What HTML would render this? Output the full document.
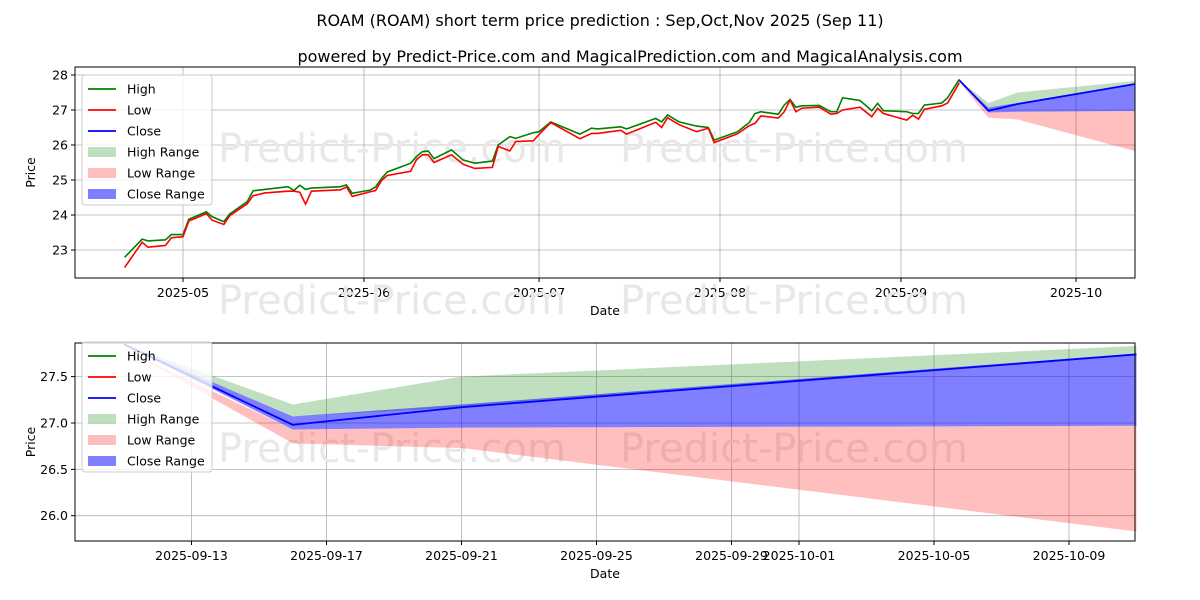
<!DOCTYPE html>
<html><head><meta charset="utf-8">
<style>
body{margin:0;background:#fff;}
svg{display:block;font-family:"DejaVu Sans","Liberation Sans",sans-serif;}
</style></head>
<body>
<svg id="chart" width="1200" height="600" viewBox="0 0 1200 600" xmlns="http://www.w3.org/2000/svg">
<rect width="1200" height="600" fill="#fff"/>
<text x="600" y="26" text-anchor="middle" font-size="16">ROAM (ROAM) short term price prediction : Sep,Oct,Nov 2025 (Sep 11)</text>
<text x="630" y="62" text-anchor="middle" font-size="16">powered by Predict-Price.com and MagicalPrediction.com and MagicalAnalysis.com</text>
<g id="top"></g>
<g id="bottom"></g>
</svg>
<script>
// historical data: days since 2025-05-01
const histDays = [-10,-7,-6,-3,-2,0,1,4,5,7,8,11,12,14,18,19,20,21,22,27,28,29,32,33,34,35,39,40,41,42,43,46,48,50,53,54,56,57,60,61,63,68,70,71,75,76,81,82,83,85,88,90,91,95,97,98,99,102,103,104,105,106,109,111,112,113,116,118,119,120,124,125,126,127,130,131,133];
const histHigh = [22.79,23.31,23.26,23.29,23.44,23.44,23.88,24.09,23.95,23.81,24.03,24.38,24.69,24.73,24.81,24.70,24.85,24.73,24.77,24.81,24.86,24.62,24.71,24.80,25.04,25.23,25.48,25.67,25.81,25.83,25.61,25.86,25.57,25.48,25.54,26.00,26.24,26.19,26.35,26.38,26.66,26.31,26.48,26.46,26.52,26.46,26.76,26.66,26.86,26.66,26.54,26.50,26.14,26.38,26.64,26.90,26.95,26.88,27.14,27.30,27.08,27.12,27.13,26.95,26.95,27.35,27.27,26.98,27.19,26.98,26.95,26.90,26.90,27.14,27.20,27.35,27.88];
const histLow = [22.50,23.22,23.08,23.13,23.35,23.38,23.83,24.04,23.85,23.73,23.98,24.32,24.55,24.63,24.68,24.68,24.65,24.31,24.68,24.72,24.80,24.53,24.66,24.70,24.98,25.13,25.25,25.58,25.72,25.72,25.50,25.72,25.45,25.33,25.36,25.96,25.83,26.10,26.12,26.30,26.64,26.18,26.33,26.33,26.42,26.31,26.65,26.50,26.78,26.58,26.38,26.48,26.07,26.32,26.55,26.62,26.83,26.77,26.95,27.28,26.95,27.05,27.08,26.88,26.90,27.00,27.08,26.81,27.05,26.90,26.71,26.85,26.74,27.02,27.12,27.20,27.78];
// prediction: days since 2025-09-11
const predDays = [0,5,10,30];
const predClose = [27.85,26.98,27.17,27.74];
const highRangeTop = [27.85,27.20,27.50,27.83];
const highRangeBottom = [27.85,27.07,27.17,27.74];
const closeRangeTop = [27.85,27.07,27.20,27.75];
const closeRangeBottom = [27.85,26.93,26.95,26.97];
const lowRangeTop = [27.80,26.93,26.95,26.97];
const lowRangeBottom = [27.80,26.78,26.73,25.83];
const topYTicks = [23,24,25,26,27,28];
const topXTickLabels = ["2025-05","2025-06","2025-07","2025-08","2025-09","2025-10"];
const topXTickDays = [0,31,61,92,123,153];
const botYTicks = [26.0,26.5,27.0,27.5];
const botXTickLabels = ["2025-09-13","2025-09-17","2025-09-21","2025-09-25","2025-09-29","2025-10-01","2025-10-05","2025-10-09"];
const botXTickDays = [2,6,10,14,18,20,24,28];

const NS="http://www.w3.org/2000/svg";
function mk(parent,tag,attrs,text){const e=document.createElementNS(NS,tag);for(const k in attrs)e.setAttribute(k,attrs[k]);if(text!==undefined)e.textContent=text;parent.appendChild(e);return e;}

function drawPanel(g,P){
  const {x0,x1,y0,y1,xs,ys,yTicks,yFmt,xDays,xLabels,legendY,wm}=P;
  // grid
  yTicks.forEach(v=>{const y=ys(v);
    const l=mk(g,'line',{x1:x0,x2:x1,y1:y,y2:y,stroke:'#b0b0b0','stroke-width':0.8});
    
    
    mk(g,'line',{x1:x0-4,x2:x0,y1:y,y2:y,stroke:'#000'});
    const t=mk(g,'text',{x:x0-7,y:y+4.5,'text-anchor':'end','font-size':12.5},yFmt(v));
    
    
  });
  xDays.forEach((d,i)=>{const x=xs(d);
    const l=mk(g,'line',{x1:x,x2:x,y1:y0,y2:y1,stroke:'#b0b0b0','stroke-width':0.8});
    
    
    mk(g,'line',{x1:x,x2:x,y1:y1,y2:y1+4,stroke:'#000'});
    const t=mk(g,'text',{x:x,y:y1+19,'text-anchor':'middle','font-size':12.5},xLabels[i]);
    
    
  });
  wm.forEach(w=>{const t=mk(g,'text',{x:w[0],y:w[1],'font-size':40,fill:'#e8e8e8'},'Predict-Price.com');
    
    });
  // bands
  function band(top,bot,fill,op,name){
    let d='';predDays.forEach((dd,i)=>{d+=(i?'L':'M')+P.pxs(dd)+','+ys(top[i]);});
    for(let i=predDays.length-1;i>=0;i--)d+='L'+P.pxs(predDays[i])+','+ys(bot[i]);
    const p=mk(g,'path',{d:d+'Z',fill:fill,'fill-opacity':op});
    
    
  }
  band(highRangeTop,highRangeBottom,'#008000',0.25,'high-range-band');
  band(lowRangeTop,lowRangeBottom,'#ff0000',0.25,'low-range-band');
  band(closeRangeTop,closeRangeBottom,'#0000ff',0.5,'close-range-band');
  if(P.hist){
    const line=(arr,c,name)=>{const p=mk(g,'polyline',{points:histDays.map((d,i)=>xs(d)+','+ys(arr[i])).join(' '),fill:'none',stroke:c,'stroke-width':1.6});
      
      };
    line(histHigh,'#008000','high-line');
    line(histLow,'#ff0000','low-line');
  }
  const cl=mk(g,'polyline',{points:predDays.map((d,i)=>P.pxs(d)+','+ys(predClose[i])).join(' '),fill:'none',stroke:'#0000ff','stroke-width':1.8});
  
  
  const fr=mk(g,'rect',{x:x0,y:y0,width:x1-x0,height:y1-y0,fill:'none',stroke:'#000','stroke-width':1});
  
  
  const xt=mk(g,'text',{x:(x0+x1)/2,y:y1+37,'text-anchor':'middle','font-size':12.5},'Date');
  
  
  const yt=mk(g,'text',{x:0,y:0,'text-anchor':'middle','font-size':12.5,transform:`translate(${x0-40},${(y0+y1)/2}) rotate(-90)`},'Price');
  
  
  // legend
  const lg=mk(g,'g',{});
  
  
  mk(lg,'rect',{x:82,y:legendY,width:130,height:130,rx:3,fill:'#fff','fill-opacity':0.8,stroke:'#ccc'});
  const items=[['High','line','#008000'],['Low','line','#ff0000'],['Close','line','#0000ff'],['High Range','patch','rgba(0,128,0,0.25)'],['Low Range','patch','rgba(255,0,0,0.25)'],['Close Range','patch','rgba(0,0,255,0.5)']];
  items.forEach((it,i)=>{const y=legendY+14+i*21;
    const e=mk(lg,'g',{});
    
    
    if(it[1]==='line')mk(e,'line',{x1:88,x2:116,y1:y,y2:y,stroke:it[2],'stroke-width':1.8});
    else mk(e,'rect',{x:88,y:y-5,width:28,height:10,fill:it[2]});
    mk(e,'text',{x:127,y:y+4.5,'font-size':12.5},it[0]);
  });
}
const topG=document.getElementById('top');
const botG=document.getElementById('bottom');
const tY=v=>75+(28-v)*35;
const tX=d=>183+d*5.837;
drawPanel(topG,{x0:75,x1:1135,y0:67,y1:278,xs:tX,ys:tY,pxs:d=>tX(133+d),yTicks:topYTicks,yFmt:v=>String(v),xDays:topXTickDays,xLabels:topXTickLabels,legendY:75,hist:true,wm:[[218,162],[620,162],[218,314],[620,314]]});
const bY=v=>423-(v-27)*92.7;
const bX=d=>124+d*33.75;
drawPanel(botG,{x0:75,x1:1135,y0:343,y1:541,xs:bX,ys:bY,pxs:bX,yTicks:botYTicks,yFmt:v=>v.toFixed(1),xDays:botXTickDays,xLabels:botXTickLabels,legendY:342,hist:false,wm:[[218,462],[620,462]]});
</script>
</body></html>
